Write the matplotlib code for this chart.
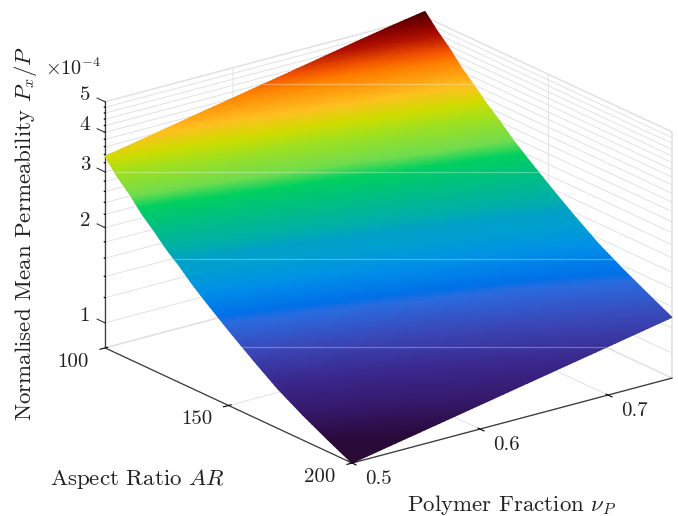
import numpy as np
import matplotlib
matplotlib.use("Agg")
import matplotlib.pyplot as plt
from matplotlib.colors import LinearSegmentedColormap
from matplotlib.patches import Polygon
from matplotlib.tri import Triangulation, UniformTriRefiner, LinearTriInterpolator
from mpl_toolkits.mplot3d import proj3d

plt.rcParams['font.family'] = ['cmr10', 'DejaVu Serif']
plt.rcParams['mathtext.fontset'] = 'cm'
plt.rcParams['axes.formatter.use_mathtext'] = True

polymer_fraction = [0.500, 0.525, 0.550, 0.575, 0.600, 0.625, 0.650, 0.675, 0.700, 0.725, 0.750]
aspect_ratio = [100, 105, 110, 115, 120, 125, 130, 135, 140, 150, 160, 170, 180, 190, 200]
# Normalised mean permeability, units of 1e-4 (rows: aspect ratio, cols: polymer fraction)
perm_ar100 = [3.36, 3.51, 3.67, 3.84, 4.01, 4.19, 4.38, 4.58, 4.79, 5.00, 5.20]
perm_ar105 = [3.02, 3.16, 3.30, 3.45, 3.60, 3.77, 3.94, 4.12, 4.30, 4.50, 4.70]
perm_ar110 = [2.77, 2.90, 3.03, 3.16, 3.31, 3.46, 3.61, 3.77, 3.95, 4.12, 4.31]
perm_ar115 = [2.50, 2.61, 2.73, 2.85, 2.98, 3.12, 3.26, 3.41, 3.56, 3.72, 3.89]
perm_ar120 = [2.30, 2.40, 2.51, 2.63, 2.74, 2.87, 3.00, 3.13, 3.28, 3.42, 3.58]
perm_ar125 = [2.10, 2.19, 2.29, 2.40, 2.51, 2.62, 2.74, 2.86, 2.99, 3.13, 3.27]
perm_ar130 = [1.95, 2.04, 2.13, 2.23, 2.33, 2.43, 2.54, 2.66, 2.78, 2.90, 3.03]
perm_ar135 = [1.79, 1.87, 1.95, 2.04, 2.13, 2.23, 2.33, 2.43, 2.54, 2.66, 2.78]
perm_ar140 = [1.66, 1.74, 1.81, 1.90, 1.98, 2.07, 2.16, 2.26, 2.36, 2.47, 2.58]
perm_ar150 = [1.44, 1.51, 1.57, 1.64, 1.72, 1.80, 1.88, 1.96, 2.05, 2.14, 2.24]
perm_ar160 = [1.26, 1.32, 1.38, 1.44, 1.50, 1.57, 1.64, 1.72, 1.79, 1.88, 1.96]
perm_ar170 = [1.11, 1.16, 1.21, 1.27, 1.32, 1.38, 1.45, 1.51, 1.58, 1.65, 1.73]
perm_ar180 = [1.00, 1.05, 1.09, 1.14, 1.19, 1.25, 1.30, 1.36, 1.42, 1.49, 1.56]
perm_ar190 = [0.91, 0.95, 0.99, 1.04, 1.09, 1.14, 1.19, 1.24, 1.30, 1.35, 1.42]
perm_ar200 = [0.833, 0.871, 0.910, 0.951, 0.994, 1.039, 1.086, 1.135, 1.186, 1.240, 1.296]
perm_rows = [perm_ar100, perm_ar105, perm_ar110, perm_ar115, perm_ar120, perm_ar125, perm_ar130,
             perm_ar135, perm_ar140, perm_ar150, perm_ar160, perm_ar170, perm_ar180, perm_ar190,
             perm_ar200]

x_ticks = [0.5, 0.6, 0.7]
x_labels = ['0.5', '0.6', '0.7']
y_ticks = [100, 150, 200]
y_labels = ['100', '150', '200']
z_major = [1, 2, 3, 4, 5]
z_minor = [1.2, 1.4, 1.6, 1.8, 2.2, 2.4, 2.6, 2.8, 3.2, 3.4, 3.6, 3.8, 4.2, 4.4, 4.6, 4.8]
z_lim = (0.833, 5.0)

stops = [(0.000, '#2a0a34'), (0.045, '#2a0a3a'), (0.105, '#35186a'), (0.177, '#3a2a90'),
         (0.247, '#3a48b8'), (0.318, '#2a6ce0'), (0.334, '#0070e8'), (0.394, '#0090e8'),
         (0.447, '#00a0d0'), (0.475, '#00a0c8'), (0.508, '#00b0a8'), (0.569, '#00c080'),
         (0.617, '#00d060'), (0.651, '#70dc50'), (0.713, '#a0e020'), (0.755, '#d0dc00'),
         (0.800, '#ffc020'), (0.866, '#ff8000'), (0.896, '#f05000'), (0.936, '#b01000'),
         (0.970, '#800000'), (1.000, '#4a0000')]
cmap = LinearSegmentedColormap.from_list('surf', stops, N=512)

W, H = 678, 516
fig = plt.figure(figsize=(W / 100, H / 100), dpi=100, facecolor='white')
ax = fig.add_axes([0.1, 0.1, 0.7, 0.7 * W / H], projection='3d', proj_type='ortho')
ax.set_box_aspect((400.8, 410, 263), zoom=1.0)
ax.view_init(elev=20.6, azim=-127.05)
ax.patch.set_alpha(0)

GRID = '#e2e2e2'
AXC = '#3a3a3a'
TXT = '#222222'
for axis in (ax.xaxis, ax.yaxis, ax.zaxis):
    axis.set_pane_color((1, 1, 1, 1))
    axis.pane.set_edgecolor(GRID)
    axis.line.set_color(AXC)
    axis.line.set_linewidth(0.9)
    axis._axinfo['grid'].update(color=GRID, linewidth=0.7, linestyle='-')
    axis._axinfo['tick']['color'] = AXC
    axis._axinfo['tick']['linewidth'] = {True: 0.8, False: 0.8}

ax.set_xticks(x_ticks)
ax.set_xticklabels([''] * len(x_ticks))
ax.set_yticks(y_ticks)
ax.set_yticklabels([''] * len(y_ticks))
z_all = sorted(z_major + z_minor)
ax.set_zticks(np.log10(z_all))
ax.set_zticklabels([''] * len(z_all))
ax.zaxis.set_ticks_position('lower')
ax.zaxis._axinfo['tick']['inward_factor'] = 0.0
ax.zaxis._axinfo['tick']['outward_factor'] = 0.04

for v in z_major:
    ax.plot([0.5, 0.5], [100, 96.8], [np.log10(v), np.log10(v)], color=AXC, lw=0.8)
ax.set_xlim(0.5, 0.75)
ax.set_ylim(200, 100)
ax.set_zlim(np.log10(z_lim[0]), np.log10(z_lim[1]))


def to_pixels(xs, ys, zs):
    px, py, _ = proj3d.proj_transform(np.asarray(xs, float), np.asarray(ys, float),
                                      np.asarray(zs, float), ax.get_proj())
    d = ax.transData.transform(np.column_stack([px, py]))
    return d[:, 0], H - d[:, 1]


# fit the axes box so that the floor corners land on their places in the figure
zb = np.log10(z_lim[0])
target = np.array([[105.0, 349.0], [672.0, 377.0]])
for _ in range(3):
    fig.canvas.draw()
    cx, cy = to_pixels([0.5, 0.75], [100, 200], [zb, zb])
    cur = np.column_stack([cx, cy])
    s = np.linalg.norm(target[1] - target[0]) / np.linalg.norm(cur[1] - cur[0])
    pos = ax.get_position(original=True)
    side = pos.width * W * s
    cm, tm = cur.mean(axis=0), target.mean(axis=0)
    cen = np.array([(pos.x0 + pos.width / 2) * W, (1 - pos.y0 - pos.height / 2) * H])
    newc = tm + (cen - cm) * s
    ax.set_position([(newc[0] - side / 2) / W, 1 - (newc[1] + side / 2) / H, side / W, side / H])
fig.canvas.draw()

# smooth surface: vertices from the table, interpolated shading on a pixel overlay
XX, YY = np.meshgrid(polymer_fraction, aspect_ratio)
ZZ = np.array(perm_rows)
LZ = np.log10(ZZ)
sx, sy = to_pixels(XX.ravel(), YY.ravel(), LZ.ravel())
ov = fig.add_axes([0, 0, 1, 1], facecolor='none')
ov.set_xlim(0, W)
ov.set_ylim(H, 0)
ov.axis('off')
nr, nc = ZZ.shape
tris = []
for i in range(nr - 1):
    for j in range(nc - 1):
        a, b, c, d = i * nc + j, i * nc + j + 1, (i + 1) * nc + j + 1, (i + 1) * nc + j
        tris += [[a, b, c], [a, c, d]]
frac = (LZ.ravel() - LZ.min()) / (LZ.max() - LZ.min())
tri = Triangulation(sx, sy, np.array(tris))
shade_tri, shade_val = UniformTriRefiner(tri).refine_field(
    frac, triinterpolator=LinearTriInterpolator(tri, frac), subdiv=3)
ov.tripcolor(shade_tri, shade_val, shading='gouraud', cmap=cmap, vmin=0, vmax=1, zorder=2)

# faint raster seams seen on the surface in the reference
gx, gy = sx.reshape(nr, nc), sy.reshape(nr, nc)
ring_x = np.r_[gx[0, :], gx[:, -1], gx[-1, ::-1], gx[::-1, 0]]
ring_y = np.r_[gy[0, :], gy[:, -1], gy[-1, ::-1], gy[::-1, 0]]
clip = Polygon(np.column_stack([ring_x, ring_y]), closed=True, transform=ov.transData)
for yy in (83.5, 171.5, 258.5, 346.5):
    ln, = ov.plot([0, W], [yy, yy], color='white', lw=0.9, alpha=0.3, zorder=3)
    ln.set_clip_path(clip)

# tick labels, anchored on the projected tick positions
for v, s in zip(x_ticks, x_labels):
    px, py = to_pixels([v], [200], [zb])
    ov.text(px[0] + 26, py[0] + 16, s, ha='center', va='center', fontsize=15, color=TXT)
for v, s in zip(y_ticks, y_labels):
    px, py = to_pixels([0.5], [v], [zb])
    ov.text(px[0] - 32, py[0] + 14, s, ha='center', va='center', fontsize=15, color=TXT)
for v in z_major:
    px, py = to_pixels([0.5], [100], [np.log10(v)])
    ov.text(px[0] - 15, py[0] - 7, str(v), ha='right', va='center', fontsize=15, color=TXT)

ov.text(26, 233, r'Normalised Mean Permeability $P_x/P$', rotation=90, ha='center', va='center',
        fontsize=16.5, color=TXT)
ov.text(45, 68, r'$\times 10^{-4}$', ha='left', va='center', fontsize=14.5, color=TXT)
ov.text(50, 479, r'Aspect Ratio $AR$', ha='left', va='center', fontsize=16.5, color=TXT)
ov.text(407, 505, r'Polymer Fraction $\nu_P$', ha='left', va='center', fontsize=16.5, color=TXT)

fig.savefig('out.png', dpi=100, facecolor='white')
